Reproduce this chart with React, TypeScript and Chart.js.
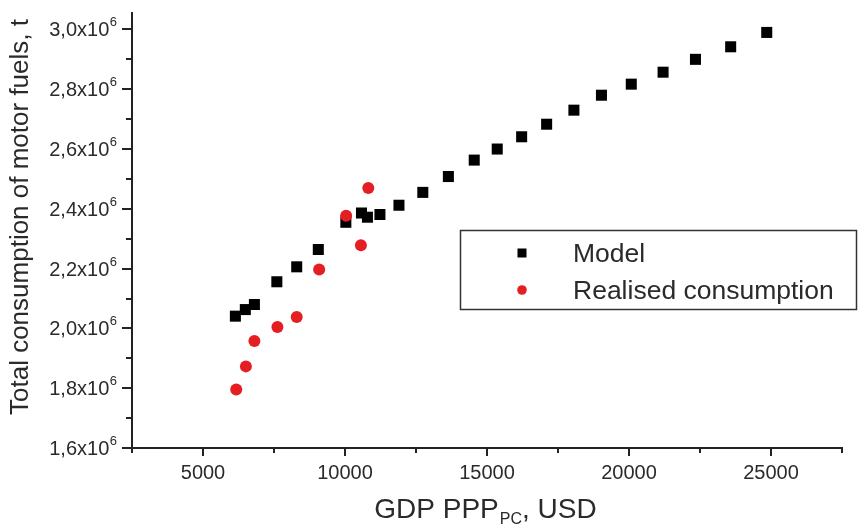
import React, { useEffect, useRef } from "react";
import { Chart, registerables } from "chart.js";

Chart.register(...registerables);

// ---- data (GDP PPP per capita, USD ; consumption, t) ----
const MODEL_X = [6140, 6490, 6810, 7600, 8300, 9060, 10030, 10580, 10790, 11230, 11900, 12740, 13640, 14550, 15360, 16220, 17100, 18060, 19030, 20080, 21200, 22340, 23580, 24850];
const MODEL_Y = [2.041e6, 2.063e6, 2.08e6, 2.156e6, 2.206e6, 2.264e6, 2.355e6, 2.386e6, 2.372e6, 2.381e6, 2.412e6, 2.455e6, 2.508e6, 2.563e6, 2.6e6, 2.641e6, 2.683e6, 2.73e6, 2.78e6, 2.817e6, 2.857e6, 2.9e6, 2.942e6, 2.99e6];
const REAL_X = [6170, 6510, 6810, 7620, 8300, 9090, 10040, 10560, 10820];
const REAL_Y = [1.796e6, 1.873e6, 1.958e6, 2.005e6, 2.038e6, 2.197e6, 2.377e6, 2.278e6, 2.47e6];

const SERIES_NAMES = ["Model", "Realised consumption"];

const X_MAJOR = [5000, 10000, 15000, 20000, 25000];
const X_LABELS = ["5000", "10000", "15000", "20000", "25000"];
const X_MINOR = [2500, 7500, 12500, 17500, 22500, 27500];
const Y_MAJOR = [1.6e6, 1.8e6, 2.0e6, 2.2e6, 2.4e6, 2.6e6, 2.8e6, 3.0e6];
const Y_LABELS = ["1,6", "1,8", "2,0", "2,2", "2,4", "2,6", "2,8", "3,0"];
const Y_MINOR = [1.7e6, 1.9e6, 2.1e6, 2.3e6, 2.5e6, 2.7e6, 2.9e6];

const X_MIN = 2500;
const X_MAX = 27500;
const Y_MIN = 1.6e6;
const Y_MAX = 3.055e6;

const FONT = "'Liberation Sans', Arial, sans-serif";
const TEXT = "#2a2a2a";
const AXIS = "#222";
const RED = "#e41f23";

const decorPlugin = {
  id: "decor",
  afterDraw(chart: any) {
    const { ctx, chartArea } = chart;
    const x = chart.scales.x;
    const y = chart.scales.y;
    ctx.save();
    ctx.strokeStyle = AXIS;
    ctx.lineWidth = 2;
    ctx.lineCap = "butt";
    const L = chartArea.left;
    const B = chartArea.bottom;
    const line = (x1: number, y1: number, x2: number, y2: number) => {
      ctx.beginPath();
      ctx.moveTo(x1, y1);
      ctx.lineTo(x2, y2);
      ctx.stroke();
    };
    // y ticks
    Y_MAJOR.forEach((v) => {
      const py = Math.round(y.getPixelForValue(v));
      line(L - 10, py, L, py);
    });
    Y_MINOR.forEach((v) => {
      const py = Math.round(y.getPixelForValue(v));
      line(L - 6, py, L, py);
    });
    // x ticks
    X_MAJOR.forEach((v) => {
      const px = Math.round(x.getPixelForValue(v));
      line(px, B, px, B + 8);
    });
    X_MINOR.forEach((v) => {
      const px = Math.round(x.getPixelForValue(v));
      line(px, B, px, B + 5);
    });

    ctx.fillStyle = TEXT;
    // y tick labels with superscript
    Y_MAJOR.forEach((v, i) => {
      const py = y.getPixelForValue(v);
      ctx.font = `13px ${FONT}`;
      const supW = ctx.measureText("6").width;
      const right = L - 15;
      ctx.textAlign = "left";
      ctx.textBaseline = "alphabetic";
      ctx.fillText("6", right - supW, py - 3);
      ctx.font = `20px ${FONT}`;
      ctx.textAlign = "right";
      ctx.fillText(Y_LABELS[i] + "x10", right - supW - 0.5, py + 7);
    });
    // x tick labels
    ctx.font = `20px ${FONT}`;
    ctx.textAlign = "center";
    ctx.textBaseline = "alphabetic";
    X_MAJOR.forEach((v, i) => {
      const px = x.getPixelForValue(v);
      ctx.fillText(X_LABELS[i], px, B + 31);
    });

    // x title with subscript
    const cx = (chartArea.left + chartArea.right) / 2;
    const base = 518;
    ctx.textAlign = "left";
    ctx.font = `28px ${FONT}`;
    const p1 = "GDP PPP";
    const p3 = ", USD";
    const w1 = ctx.measureText(p1).width;
    const w3 = ctx.measureText(p3).width;
    ctx.font = `16px ${FONT}`;
    const w2 = ctx.measureText("PC").width;
    let sx = cx - (w1 + w2 + w3) / 2 - 2;
    ctx.font = `28px ${FONT}`;
    ctx.fillText(p1, sx, base);
    ctx.font = `16px ${FONT}`;
    ctx.fillText("PC", sx + w1 + 1, base + 6);
    ctx.font = `28px ${FONT}`;
    ctx.fillText(p3, sx + w1 + w2 + 1, base);

    // y title
    ctx.save();
    ctx.translate(28, 217);
    ctx.rotate(-Math.PI / 2);
    ctx.font = `26px ${FONT}`;
    ctx.textAlign = "center";
    ctx.textBaseline = "alphabetic";
    ctx.fillText("Total consumption of motor fuels, t", 0, 0);
    ctx.restore();

    // legend
    ctx.strokeStyle = "#333";
    ctx.lineWidth = 1.5;
    ctx.strokeRect(460.5, 230.5, 396, 79);
    ctx.fillStyle = "#000";
    ctx.fillRect(517.5, 248.5, 9, 9);
    ctx.fillStyle = RED;
    ctx.beginPath();
    ctx.arc(522, 290, 4.8, 0, Math.PI * 2);
    ctx.fill();
    ctx.fillStyle = TEXT;
    ctx.font = `26.5px ${FONT}`;
    ctx.textAlign = "left";
    ctx.textBaseline = "alphabetic";
    ctx.fillText(SERIES_NAMES[0], 573, 262);
    ctx.fillText(SERIES_NAMES[1], 573, 299);
    ctx.restore();
  },
};

export default function App() {
  const ref = useRef<HTMLCanvasElement>(null);
  useEffect(() => {
    if (!ref.current) return;
    const chart = new Chart(ref.current, {
      type: "scatter",
      data: {
        datasets: [
          {
            label: SERIES_NAMES[0],
            data: MODEL_X.map((v, i) => ({ x: v, y: MODEL_Y[i] })),
            pointStyle: "rect",
            pointRadius: 7.8,
            pointHoverRadius: 7.8,
            backgroundColor: "#000",
            borderColor: "#000",
            borderWidth: 0,
            order: 2,
          },
          {
            label: SERIES_NAMES[1],
            data: REAL_X.map((v, i) => ({ x: v, y: REAL_Y[i] })),
            pointStyle: "circle",
            pointRadius: 6,
            pointHoverRadius: 6,
            backgroundColor: RED,
            borderColor: RED,
            borderWidth: 0,
            order: 1,
          },
        ],
      },
      options: {
        responsive: false,
        animation: false,
        layout: { padding: { left: 132, top: 13, right: 25, bottom: 77 } },
        plugins: {
          legend: { display: false },
          tooltip: { enabled: false },
        },
        scales: {
          x: {
            type: "linear",
            min: X_MIN,
            max: X_MAX,
            ticks: { display: false },
            grid: { display: false, drawTicks: false },
            border: { display: true, color: AXIS, width: 2 },
          },
          y: {
            type: "linear",
            min: Y_MIN,
            max: Y_MAX,
            ticks: { display: false },
            grid: { display: false, drawTicks: false },
            border: { display: true, color: AXIS, width: 2 },
          },
        },
      },
      plugins: [decorPlugin],
    });
    return () => chart.destroy();
  }, []);
  return (
    <div style={{ position: "fixed", left: 0, top: 0, width: 867, height: 525, background: "#fff" }}>
      <canvas ref={ref} width={867} height={525} />
    </div>
  );
}
